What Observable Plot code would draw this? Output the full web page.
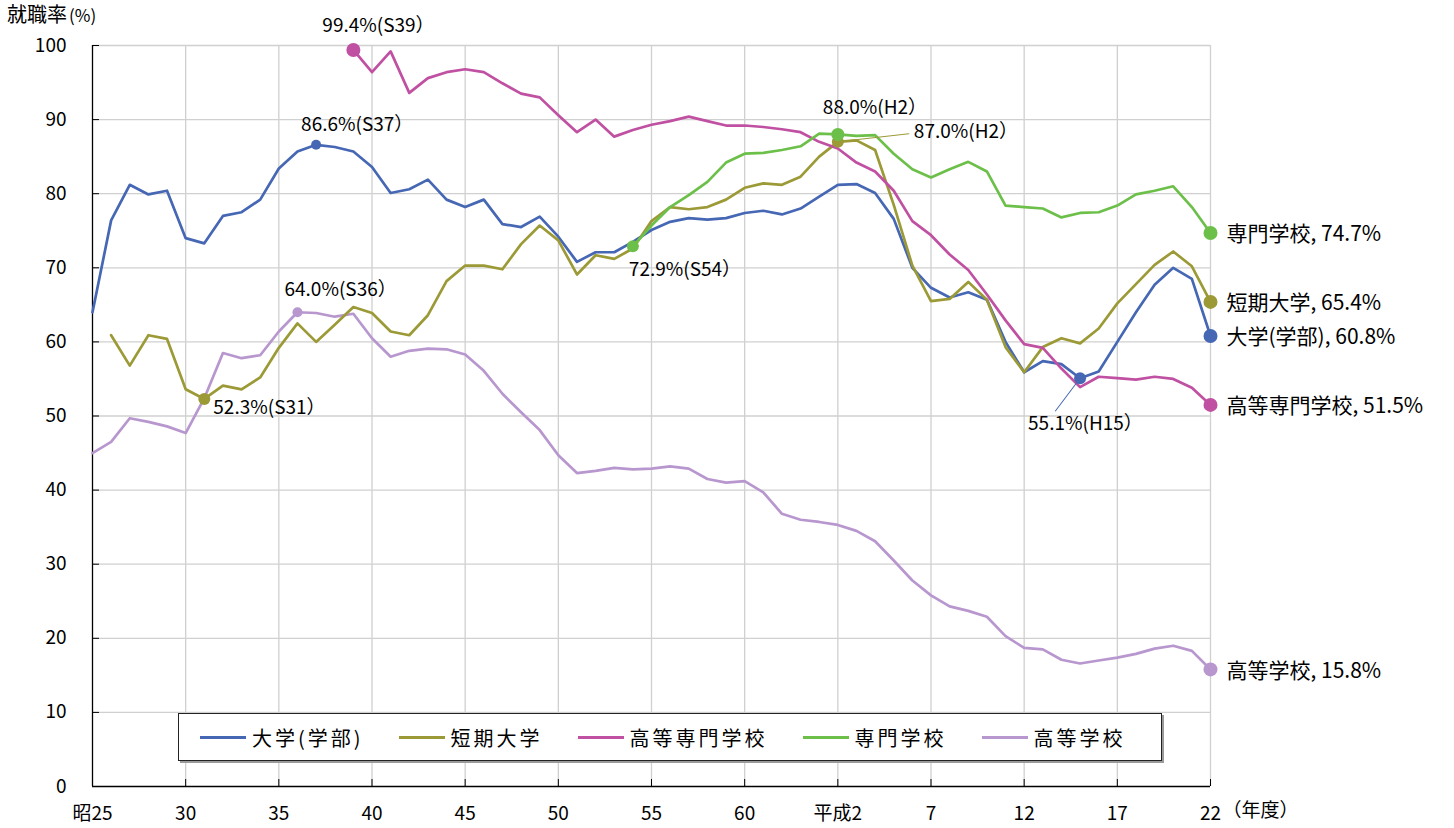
<!DOCTYPE html>
<html>
<head>
<meta charset="utf-8">
<script src="https://cdn.jsdelivr.net/npm/d3@7"></script>
<script src="https://cdn.jsdelivr.net/npm/@observablehq/plot@0.6"></script>
<style>
  body { margin: 0; background: #fff; font-family: "Noto Sans CJK JP", "Noto Sans", sans-serif; }
  #wrap { position: relative; width: 1454px; height: 828px; }
  #title { position: absolute; left: 7px; top: 5px; font-size: 20px; line-height: 18px; color: #000; white-space: nowrap; }
  #title small { font-size: 17px; line-height: 18px; margin-left: 2px; }
  #legend { position: absolute; left: 178px; top: 713px; width: 984px; height: 48px; box-sizing: border-box;
            border: 1px solid #222; box-shadow: 2px 2px 0 #9a9a9a; background: #fff;
            display: flex; align-items: center; padding-left: 21px; gap: 35px; }
  .item { display: flex; align-items: center; gap: 6px; font-size: 20px; letter-spacing: 3px; color: #000; white-space: nowrap; }
  .swatch { width: 46px; height: 3px; }
</style>
</head>
<body>
<div id="wrap">
  <div id="chart"></div>
  <div id="title">就職率<small>(%)</small></div>
  <div id="legend"></div>
</div>
<script>
// ---------- data ----------
const names = ["大学(学部)", "短期大学", "高等専門学校", "専門学校", "高等学校"];
const colors = ["#4667b4", "#9c9a36", "#c050a2", "#6cc04a", "#b897cf"];

const univStart = 1950;
const univ = [64.0, 76.4, 81.2, 79.9, 80.4, 74.0, 73.3, 77.0, 77.5, 79.2,
              83.4, 85.7, 86.6, 86.3, 85.7, 83.6, 80.1, 80.6, 81.9, 79.2,
              78.2, 79.2, 75.9, 75.5, 76.9, 74.2, 70.8, 72.1, 72.1, 73.5,
              75.1, 76.2, 76.7, 76.5, 76.7, 77.4, 77.7, 77.2, 78.0, 79.6,
              81.2, 81.3, 80.1, 76.6, 70.0, 67.3, 66.0, 66.7, 65.7, 60.0,
              55.9, 57.4, 57.0, 55.1, 56.0, 60.0, 64.0, 67.7, 70.0, 68.5,
              60.8];

const juniorStart = 1951;
const junior = [60.9, 56.8, 60.9, 60.4, 53.6, 52.3, 54.1, 53.6, 55.2,
                59.2, 62.5, 60.0, 62.3, 64.7, 63.9, 61.4, 60.9, 63.6, 68.2,
                70.3, 70.3, 69.8, 73.2, 75.7, 73.7, 69.1, 71.7, 71.2, 72.6,
                76.3, 78.2, 77.9, 78.2, 79.2, 80.8, 81.4, 81.2, 82.3, 85.0,
                87.0, 87.2, 85.9, 78.5, 70.3, 65.5, 65.8, 68.1, 65.7, 59.3,
                55.9, 59.3, 60.5, 59.8, 61.8, 65.2, 67.8, 70.4, 72.2, 70.2,
                65.4];

const kosenStart = 1964;
const kosen = [99.4, 96.4, 99.2, 93.6, 95.6, 96.4,
               96.8, 96.4, 94.9, 93.5, 93.0, 90.6, 88.3, 90.0, 87.7, 88.6,
               89.3, 89.8, 90.4, 89.8, 89.2, 89.2, 89.0, 88.7, 88.3, 87.0,
               86.1, 84.2, 83.0, 80.4, 76.3, 74.4, 71.8, 69.7, 66.4, 62.9,
               59.7, 59.2, 56.4, 53.9, 55.3, 55.1, 54.9, 55.3, 55.0, 53.8,
               51.5];

const senmonStart = 1979;
const senmon = [72.9,
                75.7, 78.2, 79.8, 81.6, 84.2, 85.4, 85.5, 85.9, 86.4, 88.1,
                88.0, 87.8, 87.9, 85.4, 83.3, 82.2, 83.3, 84.3, 83.0, 78.4,
                78.2, 78.0, 76.8, 77.4, 77.5, 78.4, 79.9, 80.4, 81.0, 78.2,
                74.7];

const highStart = 1950;
const high = [45.0, 46.5, 49.7, 49.2, 48.6, 47.7, 52.4, 58.5, 57.8, 58.2,
              61.4, 64.0, 63.9, 63.4, 63.8, 60.5, 58.0, 58.8, 59.1, 59.0,
              58.3, 56.1, 53.0, 50.5, 48.1, 44.7, 42.3, 42.6, 43.0, 42.8,
              42.9, 43.2, 42.9, 41.5, 41.0, 41.2, 39.7, 36.8, 36.0, 35.7,
              35.3, 34.5, 33.1, 30.5, 27.8, 25.8, 24.3, 23.7, 22.9, 20.3,
              18.7, 18.5, 17.1, 16.6, 17.0, 17.4, 17.9, 18.6, 19.0, 18.3,
              15.8];

const xTickYears = [1950, 1955, 1960, 1965, 1970, 1975, 1980, 1985, 1990, 1995, 2000, 2005, 2010];
const xTickLabels = ["昭25", "30", "35", "40", "45", "50", "55", "60", "平成2", "7", "12", "17", "22"];
const xUnitLabel = "（年度）";
const yTicks = [0, 10, 20, 30, 40, 50, 60, 70, 80, 90, 100];

// annotations (data only)
const annSeries = ["高等専門学校", "大学(学部)", "高等学校", "短期大学", "専門学校", "専門学校", "短期大学", "大学(学部)"];
const annYears  = [1964, 1962, 1961, 1956, 1979, 1990, 1990, 2003];
const annValues = [99.4, 86.6, 64.0, 52.3, 72.9, 88.0, 87.0, 55.1];
const annLabels = ["99.4%(S39）", "86.6%(S37）", "64.0%(S36）", "52.3%(S31）", "72.9%(S54）", "88.0%(H2）", "87.0%(H2）", "55.1%(H15）"];

// ---------- build tables ----------
const seriesDefs = [
  {name: names[4], start: highStart, values: high},
  {name: names[0], start: univStart, values: univ},
  {name: names[1], start: juniorStart, values: junior},
  {name: names[2], start: kosenStart, values: kosen},
  {name: names[3], start: senmonStart, values: senmon}
];
const rows = seriesDefs.flatMap(s => s.values.map((v, i) => ({name: s.name, year: s.start + i, value: v})));
const ends = [names[3], names[1], names[0], names[2], names[4]].map(n => {
  const s = seriesDefs.find(d => d.name === n);
  const v = s.values[s.values.length - 1];
  return {name: n, year: s.start + s.values.length - 1, value: v, label: `${n}, ${v.toFixed(1)}%`};
});
const anns = annLabels.map((t, i) => ({name: annSeries[i], year: annYears[i], value: annValues[i], label: t}));

// ---------- styles / layout ----------
const FONT = '"Noto Sans CJK JP", "Noto Sans", sans-serif';
const annStyle = [
  {r: 7,   anchor: "start",  dx: -31, dy: -24},
  {r: 5,   anchor: "start",  dx: -15, dy: -20},
  {r: 5,   anchor: "start",  dx: -13, dy: -22},
  {r: 6,   anchor: "start",  dx: 9,   dy: 9},
  {r: 6,   anchor: "start",  dx: -4,  dy: 24},
  {r: 6.5, anchor: "start",  dx: -15, dy: -27},
  {r: 6,   anchor: "start",  dx: 76,  dy: -10},
  {r: 6,   anchor: "start",  dx: -52, dy: 46}
];
const lineShape = {draw(context, l) { context.moveTo(0, 0); context.lineTo(0, -l); }};

const marks = [
  Plot.gridY(yTicks.filter(d => d > 0), {stroke: "#d0d0d0", strokeOpacity: 1, strokeWidth: 1.3}),
  Plot.gridX(xTickYears.filter(d => d > 1950), {stroke: "#d0d0d0", strokeOpacity: 1, strokeWidth: 1.3}),
  Plot.axisY(yTicks, {tickSize: 0, tickPadding: 26, label: null}),
  Plot.axisX(xTickYears, {tickSize: 0, tickPadding: 20, label: null,
    tickFormat: d => xTickLabels[xTickYears.indexOf(d)]}),
  Plot.text([{year: 2010, t: xUnitLabel}], {x: "year", text: "t", frameAnchor: "bottom",
    dy: 30, dx: 12, textAnchor: "start", fontSize: 19}),
  Plot.ruleY([0], {stroke: "#000", strokeWidth: 1.3}),
  Plot.ruleX([1950], {stroke: "#000", strokeWidth: 1.3}),
  Plot.ruleX(xTickYears, {x: d => d, y1: 0, y2: 0, insetBottom: 7, stroke: "#000"}),
  Plot.ruleY(yTicks, {y: d => d, x1: 1950, x2: 1950, insetRight: -7, stroke: "#000"}),
  Plot.line(rows, {x: "year", y: "value", z: "name", stroke: "name", strokeWidth: 2.7,
    strokeLinejoin: "round", strokeLinecap: "round"}),
  // leader lines
  Plot.vector([anns[6]], {x: "year", y: "value", length: 71.5, rotate: 83.6, anchor: "start",
    shape: lineShape, stroke: colors[1], strokeWidth: 1}),
  Plot.vector([anns[7]], {x: "year", y: "value", length: 41, rotate: 217, anchor: "start",
    shape: lineShape, stroke: colors[0], strokeWidth: 1}),
  Plot.dot(ends, {x: "year", y: "value", fill: "name", r: 7}),
  Plot.text(ends, {x: "year", y: "value", text: "label", textAnchor: "start", dx: 16, dy: 1.5, fontSize: 21})
];
// annotation dots: draw olive (87.0) before green (88.0)
const dotOrder = [0, 1, 2, 3, 4, 6, 5, 7];
dotOrder.forEach(i => {
  marks.push(Plot.dot([anns[i]], {x: "year", y: "value", fill: "name", r: annStyle[i].r}));
});
anns.forEach((a, i) => {
  const s = annStyle[i];
  marks.push(Plot.text([a], {x: "year", y: "value", text: "label", textAnchor: s.anchor,
    dx: s.dx, dy: s.dy, fontSize: 19}));
});

const chart = Plot.plot({
  width: 1454, height: 828,
  marginLeft: 92, marginRight: 244, marginTop: 45, marginBottom: 42,
  style: {fontFamily: FONT, fontSize: "19px", background: "#fff", color: "#000"},
  x: {type: "linear", domain: [1950, 2010]},
  y: {domain: [0, 100]},
  color: {domain: names, range: colors},
  marks
});
document.getElementById("chart").appendChild(chart);

// legend
const legend = document.getElementById("legend");
names.forEach((n, i) => {
  const item = document.createElement("div");
  item.className = "item";
  const sw = document.createElement("span");
  sw.className = "swatch";
  sw.style.background = colors[i];
  const lab = document.createElement("span");
  lab.textContent = n;
  item.appendChild(sw);
  item.appendChild(lab);
  legend.appendChild(item);
});
</script>
</body>
</html>
